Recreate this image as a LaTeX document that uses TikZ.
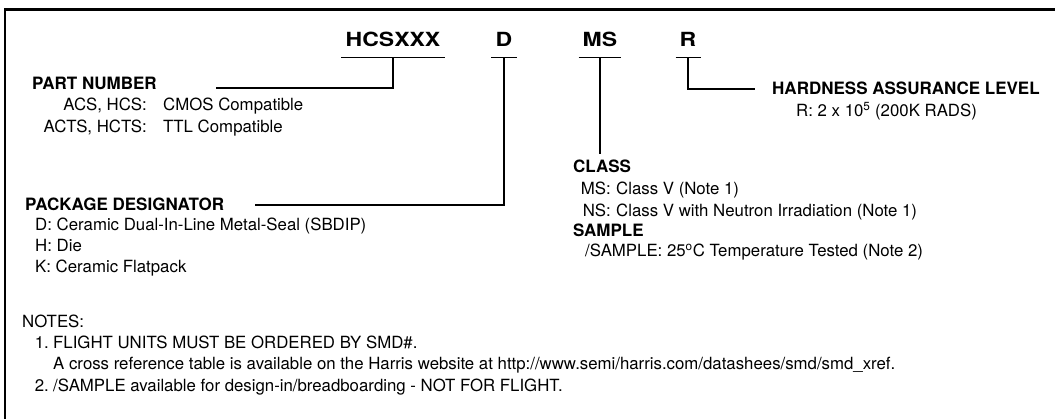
\documentclass[tikz,border=0pt]{standalone}
\usepackage{fontspec}
\setmainfont{TeX Gyre Heros}
\newfontfamily\codefont[FakeStretch=1.18]{TeX Gyre Heros}

\begin{document}
\begin{tikzpicture}[
    x=1pt, y=-1pt,
    code/.style={anchor=base, inner xsep=4pt, inner ysep=10pt,
                 font=\codefont\fontsize{19.5}{22}\selectfont\bfseries},
    head/.style={anchor=base west, inner sep=0pt,
                 font=\fontsize{17}{20}\selectfont\bfseries},
    txt/.style={anchor=base west, inner sep=0pt,
                font=\fontsize{16.8}{20}\selectfont},
    key/.style={anchor=base east, inner sep=0pt,
                font=\fontsize{16.8}{20}\selectfont},
    line/.style={line width=1.2pt},
    frame/.style={line width=2.5pt},
  ]
  \useasboundingbox (0,0) rectangle (1055,419);

  % border, open to the right and below
  \draw[frame] (1055,9.5) -- (5,9.5) -- (5,419);

  \node[code] (hcs) at (393,47) {HCSXXX};
  \node[code] (dsg) at (504,47) {D};
  \node[code] (msc) at (600,47) {MS};
  \node[code] (rad) at (688,47) {R};

  \node[head] (partno)  at (32,90)   {PART NUMBER};
  \node[key]  (acskey)  at (147,111) {ACS, HCS:};
  \node[txt]  (acsval)  at (163,111) {CMOS Compatible};
  \node[key]  (actskey) at (147,133) {ACTS, HCTS:};
  \node[txt]  (actsval) at (163,133) {TTL Compatible};

  \node[head] (pkgdes) at (25,211) {PACKAGE DESIGNATOR};
  \node[txt]  (pkgd)   at (35,231) {D: Ceramic Dual-In-Line Metal-Seal (SBDIP)};
  \node[txt]  (pkgh)   at (35,252) {H: Die};
  \node[txt]  (pkgk)   at (35,273) {K: Ceramic Flatpack};

  \node[head] (hardlvl) at (772,95)  {HARDNESS ASSURANCE LEVEL};
  \node[txt]  (hardr)   at (796,117) {R: 2 x 10\textsuperscript{5} (200K RADS)};

  \node[head] (classes) at (573,173) {CLASS};
  \node[key]  (mskey)   at (611,195) {MS:};
  \node[txt]  (msval)   at (616,195) {Class V (Note 1)};
  \node[key]  (nskey)   at (611,217) {NS:};
  \node[txt]  (nsval)   at (616,217) {Class V with Neutron Irradiation (Note 1)};
  \node[head] (sample)  at (573,237) {SAMPLE};
  \node[txt]  (smpval)  at (585,257) {/SAMPLE: 25\textsuperscript{o}C Temperature Tested (Note 2)};

  \node[txt] (notes) at (22,328) {NOTES:};
  \node[key] (num1)  at (49,349) {1.};
  \node[txt] (note1) at (53,349) {FLIGHT UNITS MUST BE ORDERED BY SMD\#.};
  \node[txt] (note1b) at (53,370) {A cross reference table is available on the Harris website at http://www.semi/harris.com/datashees/smd/smd\_xref.};
  \node[key] (num2)  at (49,392) {2.};
  \node[txt] (note2) at (53,392) {/SAMPLE available for design-in/breadboarding - NOT FOR FLIGHT.};

  % free ends of the leaders
  \coordinate (partend)  at (216,88);
  \coordinate (pkgend)   at (255,205);
  \coordinate (classtop) at (600,154);
  \coordinate (hardend)  at (755,89);

  % bars under the code fields
  \draw[line] (hcs.south west) -- (hcs.south east);
  \draw[line] (dsg.south west) -- (dsg.south east);
  \draw[line] (msc.south west) -- (msc.south east);
  \draw[line] (rad.south west) -- (rad.south east);

  % leaders to the labels
  \draw[line] (hcs.south) |- (partend);
  \draw[line] (dsg.south) |- (pkgend);
  \draw[line] (msc.south) -- (classtop);
  \draw[line] (rad.south) |- (hardend);

\end{tikzpicture}
\end{document}
